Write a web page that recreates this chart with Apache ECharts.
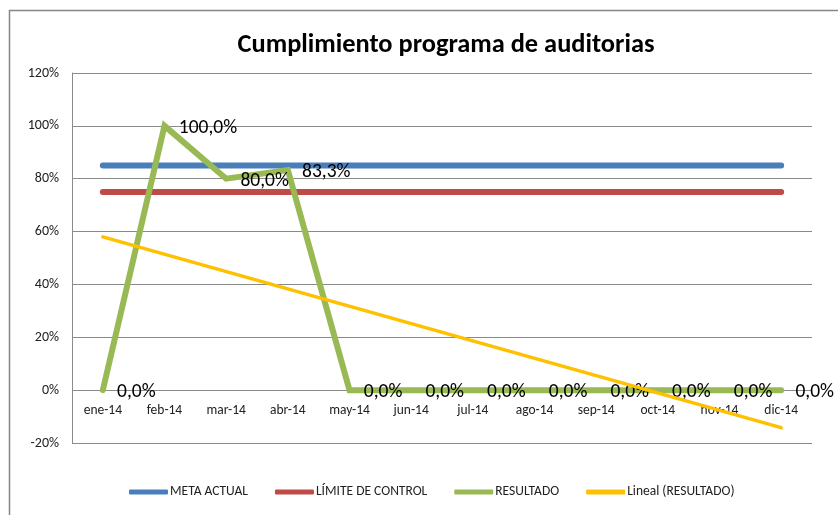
<!DOCTYPE html>
<html><head><meta charset="utf-8">
<script src="https://cdn.jsdelivr.net/npm/echarts@6/dist/echarts.min.js"></script>
<style>html,body{margin:0;padding:0;background:#fff}#c{width:838px;height:515px}</style>
</head><body><div id="c"></div>
<script>
const categories = ['ene-14','feb-14','mar-14','abr-14','may-14','jun-14','jul-14','ago-14','sep-14','oct-14','nov-14','dic-14'];
const metaActual = [0.85,0.85,0.85,0.85,0.85,0.85,0.85,0.85,0.85,0.85,0.85,0.85];
const limiteControl = [0.75,0.75,0.75,0.75,0.75,0.75,0.75,0.75,0.75,0.75,0.75,0.75];
const resultado = [0, 1.0, 0.8, 0.833, 0, 0, 0, 0, 0, 0, 0, 0];
// trend line: only the two end points
const linealResultado = [0.58, null, null, null, null, null, null, null, null, null, null, -0.142];
const yTicks = {min: -0.2, max: 1.2, interval: 0.2};
const titleText = 'Cumplimiento programa de auditorias';
const seriesNames = ['META ACTUAL', 'LÍMITE DE CONTROL', 'RESULTADO', 'Lineal (RESULTADO)'];

const FONT = 'Carlito, Lato, "Open Sans", sans-serif';
const chart = echarts.init(document.getElementById('c'), null, {renderer: 'canvas'});
chart.setOption({
  animation: false,
  backgroundColor: '#fff',
  title: {
    text: titleText, left: 441, top: 27, textAlign: 'center',
    textStyle: {fontFamily: FONT, fontWeight: 'bold', fontSize: 26.4, color: '#000'}
  },
  graphic: [{
    type: 'rect', shape: {x: 9.5, y: 10.5, width: 900, height: 600},
    style: {fill: 'none', stroke: '#868686', lineWidth: 1.5}, silent: true, z: 100
  }],
  legend: {
    left: 124, top: 480, itemGap: 27, itemWidth: 39, itemHeight: 5, icon: 'roundRect',
    textStyle: {fontFamily: FONT, fontSize: 13.5, color: '#222', padding: [0, 0, 0, -3]},
    data: seriesNames
  },
  grid: {left: 72, right: 26, top: 73, bottom: 72, containLabel: false},
  xAxis: {
    type: 'category', data: categories, boundaryGap: true, offset: -54,
    axisLine: {show: false},
    axisTick: {show: false},
    axisLabel: {fontFamily: FONT, fontSize: 13.5, color: '#222', margin: 15}
  },
  yAxis: {
    type: 'value', min: yTicks.min, max: yTicks.max, interval: yTicks.interval,
    axisLine: {show: true, lineStyle: {color: '#8a8a8a', width: 1}},
    axisTick: {show: false},
    splitLine: {lineStyle: {color: '#8a8a8a', width: 1}},
    axisLabel: {fontFamily: FONT, fontSize: 14, color: '#222', margin: 13,
      formatter: v => Math.round(v * 100) + '%'}
  },
  series: [
    {name: seriesNames[0], type: 'line', data: metaActual, showSymbol: false, symbol: 'none',
     color: '#4A7EBB', lineStyle: {width: 6, cap: 'round', color: '#4A7EBB'}, z: 2},
    {name: seriesNames[1], type: 'line', data: limiteControl, showSymbol: false, symbol: 'none',
     color: '#BE4B48', lineStyle: {width: 6, cap: 'round', color: '#BE4B48'}, z: 2},
    {name: seriesNames[2], type: 'line', data: resultado, symbol: 'circle', symbolSize: 0.5, showSymbol: true,
     color: '#98B954', lineStyle: {width: 6, cap: 'round', join: 'miter', color: '#98B954'},
     itemStyle: {color: '#98B954'}, z: 3,
     label: {show: true, position: 'right', distance: 14, fontFamily: FONT, fontSize: 19.5, color: '#000',
       offset: [0, 2],
       formatter: p => (p.value * 100).toFixed(1).replace('.', ',') + '%'}},
    {name: seriesNames[3], type: 'line', data: linealResultado, connectNulls: true, showSymbol: false, symbol: 'none',
     color: '#FFC000', lineStyle: {width: 3.5, cap: 'round', color: '#FFC000'}, z: 4}
  ]
});
</script></body></html>
